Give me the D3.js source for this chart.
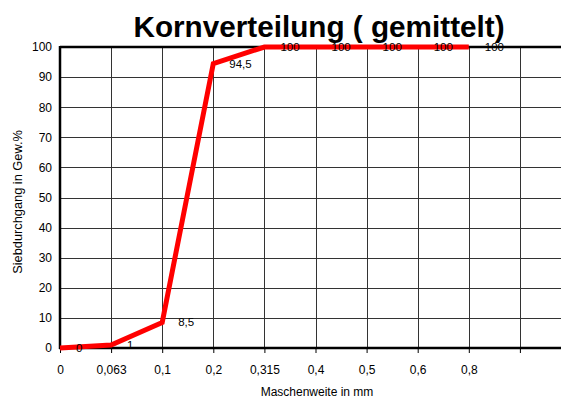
<!DOCTYPE html>
<html><head><meta charset="utf-8">
<script src="https://cdn.jsdelivr.net/npm/d3@7"></script>
<style>
html,body{margin:0;padding:0;background:#fff;}
svg{display:block;font-family:"Liberation Sans",Arial,sans-serif;}
</style></head>
<body>
<svg id="c" width="561" height="401"></svg>
<script>
const categories = ["0","0,063","0,1","0,2","0,315","0,4","0,5","0,6","0,8","",""];
const values = [0, 1, 8.5, 94.5, 100, 100, 100, 100, 100];
const yTicks = [0,10,20,30,40,50,60,70,80,90,100];
const title = "Kornverteilung ( gemittelt)";
const xTitle = "Maschenweite in mm";
const yTitle = "Siebdurchgang in Gew.%";

(function(){
const svg = d3.select("#c");
const mL = 60, mR = 571, mT = 47, mB = 348;
const idx = categories.map((d,i)=>i);
const x = d3.scalePoint().domain(idx).range([mL, mR]);
const y = d3.scaleLinear().domain([0,100]).range([mB, mT]);

// grid
const g = svg.append("g");
g.selectAll("line.h").data(yTicks.filter(d=>d>0&&d<100)).join("line")
  .attr("x1", mL).attr("x2", 561).attr("y1", d=>Math.round(y(d))+0.5).attr("y2", d=>Math.round(y(d))+0.5)
  .attr("stroke", "#333").attr("stroke-width", 1);
g.selectAll("line.v").data(idx.slice(1)).join("line")
  .attr("x1", d=>Math.round(x(d))+0.5).attr("x2", d=>Math.round(x(d))+0.5)
  .attr("y1", mT).attr("y2", mB)
  .attr("stroke", "#333").attr("stroke-width", 1);

// x axis
const xAxis = d3.axisBottom(x).tickSize(5).tickFormat(i=>categories[i]);
const xg = svg.append("g").attr("transform", `translate(0,${mB})`).call(xAxis);
xg.select(".domain").remove();
xg.selectAll(".tick line").attr("stroke","#000");
xg.selectAll(".tick text").attr("font-size", 12).attr("font-family","Liberation Sans, Arial, sans-serif")
  .attr("y", 26).attr("dy", 0).attr("fill","#000");

// y axis
const yAxis = d3.axisLeft(y).tickValues(yTicks).tickSize(0).tickPadding(8);
const yg = svg.append("g").attr("transform", `translate(${mL},0)`).call(yAxis);
yg.select(".domain").remove();
yg.selectAll(".tick text").attr("font-size", 12).attr("font-family","Liberation Sans, Arial, sans-serif").attr("fill","#000");

// thick frame lines
svg.append("line").attr("x1", mL).attr("x2", 561).attr("y1", mT).attr("y2", mT).attr("stroke","#000").attr("stroke-width",2.5);
svg.append("line").attr("x1", mL-1).attr("x2", 561).attr("y1", mB).attr("y2", mB).attr("stroke","#000").attr("stroke-width",2.5);
svg.append("line").attr("x1", mL).attr("x2", mL).attr("y1", mT-1).attr("y2", mB+1).attr("stroke","#000").attr("stroke-width",2.5);

// line
const line = d3.line().x((d,i)=>x(i)).y(d=>y(d));
svg.append("path").datum(values).attr("d", line)
  .attr("fill","none").attr("stroke","#ff0000").attr("stroke-width",5).attr("stroke-linejoin","miter");

// data labels
const fmt = v => String(v).replace(".", ",");
svg.append("g").selectAll("text").data(values).join("text")
  .attr("x", (d,i)=>x(i)+16).attr("y", d=>y(d)).attr("dy","0.35em")
  .attr("font-size", 11.5).attr("fill","#000").text(fmt);

// titles
svg.append("text").attr("x", 319).attr("y", 37).attr("text-anchor","middle")
  .attr("font-size", 29.7).attr("font-weight","bold").attr("fill","#000").text(title);
svg.append("text").attr("x", 317).attr("y", 396).attr("text-anchor","middle")
  .attr("font-size", 12).attr("fill","#000").text(xTitle);
svg.append("text").attr("transform","translate(22,202) rotate(-90)").attr("text-anchor","middle")
  .attr("font-size", 12.8).attr("fill","#000").text(yTitle);
})();
</script>
</body></html>
